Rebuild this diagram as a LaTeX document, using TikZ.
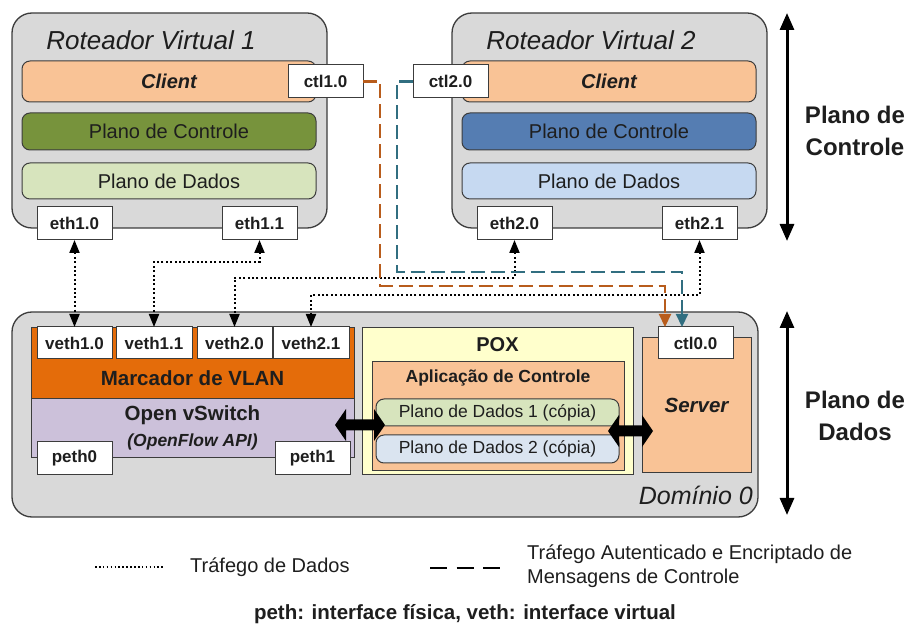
\documentclass[tikz,border=0pt]{standalone}
\usepackage{fontspec}
\setmainfont{Liberation Sans}
\usetikzlibrary{arrows.meta,calc}
\definecolor{boxgray}{RGB}{217,217,217}
\definecolor{edgegray}{RGB}{60,60,60}
\definecolor{peach}{RGB}{249,195,150}
\definecolor{olive}{RGB}{119,147,60}
\definecolor{lightgreen}{RGB}{215,228,189}
\definecolor{steelblue}{RGB}{85,125,178}
\definecolor{lightblue}{RGB}{198,217,241}
\definecolor{paleblue}{RGB}{218,228,240}
\definecolor{vlanorange}{RGB}{228,108,10}
\definecolor{lavender}{RGB}{204,193,218}
\definecolor{paleyellow}{RGB}{255,255,204}
\definecolor{dashorange}{RGB}{184,92,28}
\definecolor{dashteal}{RGB}{49,110,128}
\definecolor{txt}{RGB}{30,30,30}
\newcommand\fsz[2]{\fontsize{#1}{#2}\selectfont}
\begin{document}
\begin{tikzpicture}[x=1pt,y=-1pt,
  graybox/.style={draw=edgegray,line width=1.3pt,fill=boxgray,rounded corners=20pt,inner sep=0pt,outer sep=0pt},
  bar/.style={draw=edgegray,line width=1pt,rounded corners=8pt,inner sep=0pt,outer sep=0pt,minimum width=294pt,text=txt,font=\fsz{20}{24}},
  port/.style={draw=edgegray,line width=1pt,fill=white,inner sep=0pt,outer sep=0pt,minimum width=75pt,minimum height=33pt,font=\fsz{17}{20}\bfseries,text=txt},
  plain/.style={draw=edgegray,line width=1pt,inner sep=0pt,outer sep=0pt},
  dotline/.style={line width=2pt,dash pattern=on 2pt off 2.4pt},
  dotarrow/.style={dotline,{Triangle[width=10pt,length=13pt]}-{Triangle[width=10pt,length=13pt]}},
  ctldash/.style={line width=2.2pt,dash pattern=on 14pt off 6pt,-{Triangle[width=12pt,length=13pt]}},
  bigdbl/.style={fill=black},
  planearrow/.style={line width=3pt,{Triangle[width=14pt,length=17pt]}-{Triangle[width=14pt,length=17pt]}},
  lbl/.style={inner sep=0pt,text=txt}
]
\useasboundingbox (0,0) rectangle (914,628);

% ---------- Roteador Virtual 1 ----------
\node[graybox,minimum width=315pt,minimum height=215pt] (rv1) at (169.5,120.5) {};
\node[lbl,font=\fsz{26}{30}\itshape] (rv1t) at (151,40) {Roteador Virtual 1};
\node[bar,fill=peach,minimum height=41pt] (cl1) at (169,81.5) {\bfseries\itshape Client};
\node[bar,fill=olive,minimum height=37pt] (pc1) at (169,131.5) {Plano de Controle};
\node[bar,fill=lightgreen,minimum height=36pt] (pd1) at (169,181) {Plano de Dados};
\node[port] (ctl10) at (325.5,81.5) {ctl1.0};
\node[port] (eth10) at (74.5,223.5) {eth1.0};
\node[port] (eth11) at (259.5,223.5) {eth1.1};

% ---------- Roteador Virtual 2 ----------
\node[graybox,minimum width=315pt,minimum height=215pt] (rv2) at (609.5,120.5) {};
\node[lbl,font=\fsz{26}{30}\itshape] (rv2t) at (591,40) {Roteador Virtual 2};
\node[bar,fill=peach,minimum height=41pt] (cl2) at (609,81.5) {\bfseries\itshape Client};
\node[bar,fill=steelblue,minimum height=37pt] (pc2) at (609,131.5) {Plano de Controle};
\node[bar,fill=lightblue,minimum height=36pt] (pd2) at (609,181) {Plano de Dados};
\node[port] (ctl20) at (450.5,81.5) {ctl2.0};
\node[port] (eth20) at (514.5,223.5) {eth2.0};
\node[port] (eth21) at (699.5,223.5) {eth2.1};

% ---------- Dominio 0 ----------
\node[graybox,minimum width=746pt,minimum height=205pt] (dom) at (385,414.5) {};
\node[lbl,anchor=east,font=\fsz{25}{30}\itshape] (domt) at (753,495) {Domínio 0};

\node[plain,fill=vlanorange,minimum width=323pt,minimum height=71pt] (vlan) at (192.5,363.5) {};
\node[plain,fill=lavender,minimum width=323pt,minimum height=59pt] (ovs) at (192.5,428.5) {};
\node[lbl,font=\fsz{20.5}{24}\bfseries] (vlant) at (192.5,378) {Marcador de VLAN};
\node[lbl,font=\fsz{20.5}{24}\bfseries] (ovst) at (192.5,415) {Open vSwitch};
\node[lbl,font=\fsz{17.5}{21}\bfseries\itshape] (ofapi) at (192.5,442) {(OpenFlow API)};

\node[port,minimum height=32pt] (veth10) at (74.5,343) {veth1.0};
\node[port,minimum height=32pt,minimum width=76pt] (veth11) at (154,343) {veth1.1};
\node[port,minimum height=32pt] (veth20) at (234.5,343) {veth2.0};
\node[port,minimum height=32pt,minimum width=76pt] (veth21) at (311,343) {veth2.1};
\node[port] (peth0) at (74.5,458.5) {peth0};
\node[port] (peth1) at (312.5,458.5) {peth1};

\node[plain,fill=paleyellow,minimum width=271pt,minimum height=147pt] (pox) at (497.5,401.5) {};
\node[lbl,font=\fsz{20}{24}\bfseries] (poxt) at (497.5,345) {POX};
\node[plain,fill=peach,minimum width=252pt,minimum height=109pt] (app) at (498,416.5) {};
\node[lbl,font=\fsz{17.5}{21}\bfseries] (appt) at (498,378) {Aplicação de Controle};
\node[bar,fill=lightgreen,minimum width=243pt,minimum height=27pt,font=\fsz{17.5}{21}] (pdc1) at (497.5,412.5) {Plano de Dados 1 (cópia)};
\node[bar,fill=paleblue,minimum width=243pt,minimum height=28pt,font=\fsz{17.5}{21}] (pdc2) at (497.5,449) {Plano de Dados 2 (cópia)};

\node[plain,fill=peach,minimum width=109pt,minimum height=135pt] (server) at (696.5,405.5) {};
\node[lbl,font=\fsz{20.5}{24}\bfseries\itshape] (servert) at (696.5,405) {Server};
\node[port,minimum height=32pt] (ctl00) at (695.5,343) {ctl0.0};

% ---------- thick double arrows ----------
\fill[bigdbl] (335,425) -- (346,409) -- (346,419.5) -- (374,419.5) -- (374,409) -- (385,425)
  -- (374,441) -- (374,430.5) -- (346,430.5) -- (346,441) -- cycle;
\fill[bigdbl] (608,431) -- (619,415) -- (619,425.5) -- (642,425.5) -- (642,415) -- (653,431)
  -- (642,447) -- (642,436.5) -- (619,436.5) -- (619,447) -- cycle;

% ---------- data traffic (dotted) ----------
\draw[dotarrow] (eth10.south) -- (veth10.north);
\draw[dotarrow] (eth11.south) -- ++(0,22) -| (veth11.north);
\draw[dotarrow] (eth20.south) -- ++(0,38) -| (veth20.north);
\draw[dotarrow] (eth21.south) -- ++(0,55) -| (veth21.north);

% ---------- control traffic (dashed) ----------
\coordinate (oin) at ($(ctl00.north west)+(7,0)$);
\coordinate (tin) at ($(ctl00.north west)+(24,0)$);
\draw[ctldash,dashorange] (ctl10.east) -| (380,286) -| (oin);
\draw[ctldash,dashteal] (ctl20.west) -| (397,272) -| (tin);

% ---------- plane arrows ----------
\coordinate (ca1) at (787,13);
\coordinate (ca2) at (787,241);
\coordinate (da1) at (787,311);
\coordinate (da2) at (787,515);
\draw[planearrow] (ca1) -- (ca2);
\draw[planearrow] (da1) -- (da2);
\node[lbl,font=\fsz{24}{32}\bfseries,align=center] (pcl) at (855,131) {Plano de\\Controle};
\node[lbl,font=\fsz{24}{32}\bfseries,align=center] (pdl) at (855,415.5) {Plano de\\Dados};

% ---------- legend ----------
\coordinate (l1a) at (95,567);
\coordinate (l1b) at (163,567);
\draw[line width=1.6pt,dash pattern=on 1.6pt off 2.3pt] (l1a) -- (l1b);
\node[lbl,anchor=west,font=\fsz{20}{23}] (leg1) at (190,567) {Tráfego de Dados};
\coordinate (l2a) at (430,568);
\coordinate (l2b) at (500,568);
\draw[line width=2.5pt,dash pattern=on 17pt off 9.5pt] (l2a) -- (l2b);
\node[lbl,anchor=west,font=\fsz{20}{23.5},align=left] (leg2) at (527,566) {Tráfego Autenticado e Encriptado de\\Mensagens de Controle};
\node[lbl,font=\fsz{20.5}{23}\bfseries] (note) at (465,614) {peth: interface física, veth: interface virtual};
\end{tikzpicture}
\end{document}
